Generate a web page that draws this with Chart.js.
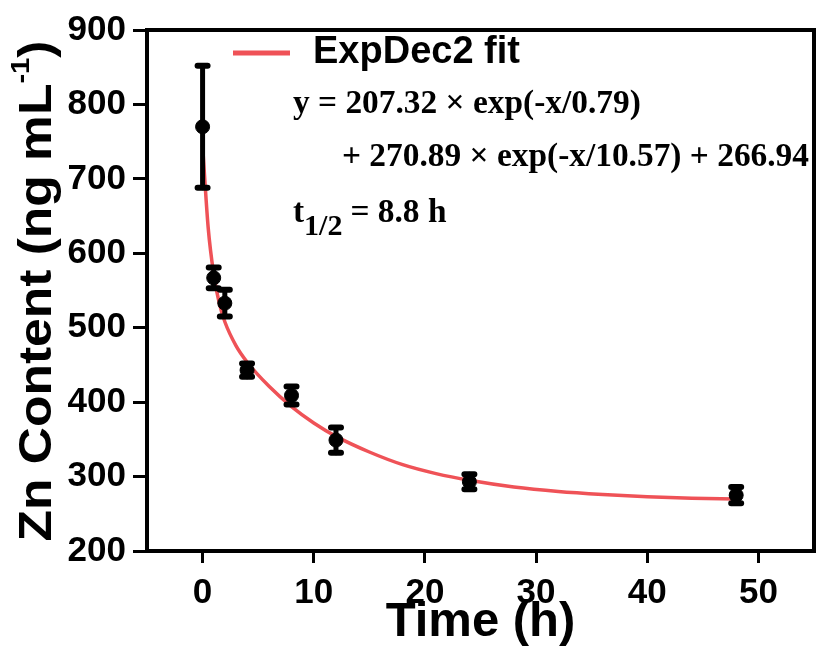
<!DOCTYPE html>
<html lang="en">
<head>
<meta charset="UTF-8">
<title>Zn Content vs Time</title>
<script src="https://cdn.jsdelivr.net/npm/chart.js"></script>
<style>
  body { margin: 0; background: #fff; }
  #wrap { width: 817px; height: 648px; }
</style>
</head>
<body>
<div id="wrap"><canvas id="znChart" width="817" height="648"></canvas></div>
<script>
// measured points: time (h), Zn content (ng/mL), error bar half-height
const timeH = [0, 1, 2, 4, 8, 12, 24, 48];
const znContent = [770, 567, 533, 443, 409, 349, 293, 275];
const znError = [82, 14, 18, 9, 12, 17, 10, 11];

// ExpDec2 fit curve
const fitTime = [0, 0.5, 1, 1.5, 2, 3, 4, 6, 8, 10, 12, 15, 18, 21, 24, 28, 32, 36, 40, 44, 48];
const fitValue = [745, 635, 572, 533, 508, 476, 454, 421, 394, 372, 354, 333, 316, 304, 295, 286, 280, 276, 273, 271, 270];

const xTicks = [0, 10, 20, 30, 40, 50];
const yTicks = [200, 300, 400, 500, 600, 700, 800, 900];

const fitLabel = 'ExpDec2 fit';
const eqLine1 = 'y = 207.32 × exp(-x/0.79)';
const eqLine2 = '+ 270.89 × exp(-x/10.57) + 266.94';
const halfLife = '= 8.8 h';

const SANS = '"Liberation Sans", Arial, sans-serif';
const SERIF = '"Liberation Serif", "Times New Roman", serif';
const RED = '#ef5257';

// error bars drawn between the fit line and the black points
const errorBars = {
    id: 'errorBars',
    beforeDatasetDraw(chart, args) {
        if (args.index !== 1) return;
        const ctx = chart.ctx;
        const xs = chart.scales.x, ys = chart.scales.y;
        ctx.save();
        ctx.strokeStyle = '#000';
        ctx.lineCap = 'round';
        timeH.forEach((t, i) => {
            const px = xs.getPixelForValue(t);
            const top = ys.getPixelForValue(znContent[i] + znError[i]);
            const bot = ys.getPixelForValue(znContent[i] - znError[i]);
            ctx.lineWidth = 5;
            ctx.beginPath();
            ctx.moveTo(px, top);
            ctx.lineTo(px, bot);
            ctx.stroke();
            ctx.lineWidth = 6;
            ctx.beginPath();
            ctx.moveTo(px - 5, top); ctx.lineTo(px + 5, top);
            ctx.moveTo(px - 5, bot); ctx.lineTo(px + 5, bot);
            ctx.stroke();
        });
        ctx.restore();
    }
};

// frame, legend, equation text and the y axis title
const decorations = {
    id: 'decorations',
    afterDraw(chart) {
        const ctx = chart.ctx;
        const a = chart.chartArea;
        ctx.save();

        // box round the plot
        ctx.strokeStyle = '#000';
        ctx.lineWidth = 4;
        ctx.strokeRect(a.left, a.top, a.right - a.left, a.bottom - a.top);

        // legend
        const ly = a.top + 23;
        ctx.strokeStyle = chart.data.datasets[0].borderColor;
        ctx.lineWidth = 5;
        ctx.beginPath();
        ctx.moveTo(a.left + 86, ly);
        ctx.lineTo(a.left + 143, ly);
        ctx.stroke();
        ctx.fillStyle = '#000';
        ctx.textBaseline = 'middle';
        ctx.font = 'bold 38px ' + SANS;
        ctx.fillText(fitLabel, a.left + 166, ly);

        // equation
        ctx.textBaseline = 'alphabetic';
        ctx.font = 'bold 33.4px ' + SERIF;
        ctx.fillText(eqLine1, a.left + 146, 113);
        ctx.fillText(eqLine2, a.left + 195, 166);

        // half life with subscript
        let x = a.left + 146;
        ctx.fillText('t', x, 222);
        x += ctx.measureText('t').width;
        ctx.font = 'bold 30px ' + SERIF;
        ctx.fillText('1/2', x, 235);
        x += ctx.measureText('1/2').width + 8;
        ctx.font = 'bold 33.4px ' + SERIF;
        ctx.fillText(halfLife, x, 222);

        // rotated y title with superscript
        ctx.translate(38, 291);
        ctx.rotate(-Math.PI / 2);
        const big = 'bold 46px ' + SANS, small = 'bold 26px ' + SANS;
        const p1 = 'Zn Content (ng mL', p2 = '-1', p3 = ')';
        ctx.font = big;
        const w1 = ctx.measureText(p1).width, w3 = ctx.measureText(p3).width;
        ctx.font = small;
        const w2 = ctx.measureText(p2).width;
        const total = w1 + w2 + w3;
        ctx.scale(1.12, 1);
        ctx.textBaseline = 'middle';
        let s = -total / 2;
        ctx.font = big;
        ctx.fillText(p1, s, 0);
        ctx.font = small;
        ctx.fillText(p2, s + w1, -16);
        ctx.font = big;
        ctx.fillText(p3, s + w1 + w2, 0);

        ctx.restore();
    }
};

new Chart(document.getElementById('znChart'), {
    type: 'scatter',
    data: {
        datasets: [
            {
                label: fitLabel,
                type: 'line',
                data: fitTime.map((t, i) => ({ x: t, y: fitValue[i] })),
                borderColor: RED,
                borderWidth: 3.5,
                pointRadius: 0,
                cubicInterpolationMode: 'monotone',
                fill: false,
                order: 2
            },
            {
                label: 'Zn content',
                data: timeH.map((t, i) => ({ x: t, y: znContent[i] })),
                backgroundColor: '#000',
                borderColor: '#000',
                pointRadius: 7,
                order: 1
            }
        ]
    },
    options: {
        responsive: false,
        animation: false,
        devicePixelRatio: 1,
        layout: { autoPadding: false, padding: { top: 30, right: 3, left: 0, bottom: 0 } },
        plugins: {
            legend: { display: false },
            tooltip: { enabled: false }
        },
        scales: {
            x: {
                type: 'linear',
                min: -5,
                max: 55,
                afterBuildTicks: scale => { scale.ticks = xTicks.map(v => ({ value: v })); },
                afterFit: scale => { scale.height = 97; },
                grid: { drawOnChartArea: false, color: '#000', tickLength: 12, tickWidth: 3 },
                border: { display: true, color: '#000', width: 4 },
                ticks: { color: '#000', padding: 9, font: { family: SANS, size: 35, weight: 'bold' } },
                title: {
                    display: true,
                    text: 'Time (h)',
                    color: '#000',
                    padding: 0,
                    font: { family: SANS, size: 49, weight: 'bold', lineHeight: 1.05 }
                }
            },
            y: {
                type: 'linear',
                min: 200,
                max: 900,
                afterBuildTicks: scale => { scale.ticks = yTicks.map(v => ({ value: v })); },
                afterFit: scale => { scale.width = 147; },
                grid: { drawOnChartArea: false, color: '#000', tickLength: 14, tickWidth: 3 },
                border: { display: true, color: '#000', width: 4 },
                ticks: { color: '#000', padding: 7, font: { family: SANS, size: 35, weight: 'bold' } }
            }
        }
    },
    plugins: [errorBars, decorations]
});
</script>
</body>
</html>
